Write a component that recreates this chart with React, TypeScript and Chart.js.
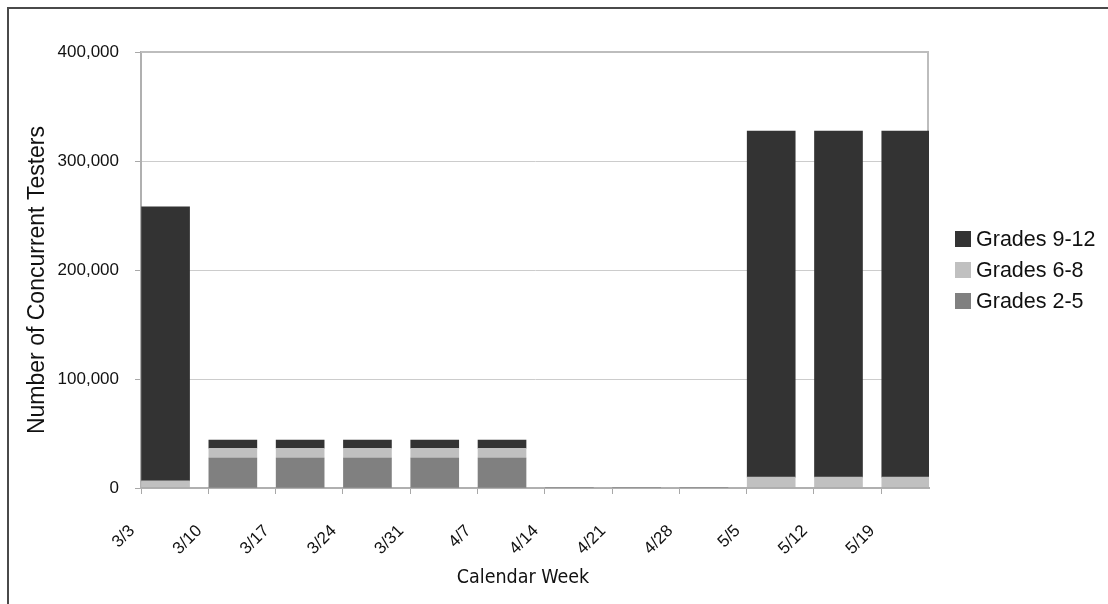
import React, { useEffect, useRef } from "react";
import { Chart, registerables } from "chart.js";

Chart.register(...registerables);

// Calendar weeks on the horizontal axis
const weeks = ["3/3", "3/10", "3/17", "3/24", "3/31", "4/7", "4/14", "4/21", "4/28", "5/5", "5/12", "5/19"];

// Concurrent testers per grade band, by week
const grades25 = [0, 27500, 27500, 27500, 27500, 27500, 0, 0, 0, 0, 0, 0];
const grades68 = [6500, 9000, 9000, 9000, 9000, 9000, 0, 0, 0, 10000, 10000, 10000];
const grades912 = [251500, 7500, 7500, 7500, 7500, 7500, 0, 0, 0, 317500, 317500, 317500];

// Value axis ticks
const yTicks = [0, 100000, 200000, 300000, 400000];

const FONT = "'Liberation Sans', Arial, sans-serif";
const NARROW = "'Liberation Sans Narrow', 'DejaVu Sans Condensed', 'Liberation Sans', sans-serif";

const COLORS = { g912: "#333333", g68: "#c0c0c0", g25: "#808080" };

// Bars sit at the left of each weekly slot
const BAR_SHIFT = 0.365;
const X_MAX = 11.71;

const legendItems = [
  { label: "Grades 9-12", color: COLORS.g912 },
  { label: "Grades 6-8", color: COLORS.g68 },
  { label: "Grades 2-5", color: COLORS.g25 },
];

const toPoints = (values: number[]) => values.map((v, i) => ({ x: i + BAR_SHIFT, y: v }));

const decorPlugin = {
  id: "decor",
  beforeDatasetsDraw(chart: any) {
    const { ctx, chartArea } = chart;
    ctx.save();
    ctx.strokeStyle = "#bdbdbd";
    ctx.lineWidth = 2;
    ctx.beginPath();
    ctx.moveTo(chartArea.left, chartArea.top);
    ctx.lineTo(chartArea.right - 1, chartArea.top);
    ctx.lineTo(chartArea.right - 1, chartArea.bottom);
    ctx.stroke();
    ctx.restore();
  },
  afterDraw(chart: any) {
    const { ctx } = chart;
    ctx.save();
    // outer frame
    ctx.strokeStyle = "#4a4a4a";
    ctx.lineWidth = 2;
    ctx.beginPath();
    ctx.moveTo(8, 604);
    ctx.lineTo(8, 8);
    ctx.lineTo(1108, 8);
    ctx.stroke();

    // axis titles
    ctx.fillStyle = "#111111";
    ctx.font = `23px ${FONT}`;
    ctx.textAlign = "center";
    ctx.textBaseline = "middle";
    ctx.save();
    ctx.translate(38, 280);
    ctx.rotate(-Math.PI / 2);
    ctx.fillText("Number of Concurrent Testers", 0, 0);
    ctx.restore();

    ctx.font = `19.5px ${NARROW}`;
    ctx.fillText("Calendar Week", 523, 578);

    // legend
    ctx.font = `21.5px ${FONT}`;
    ctx.textAlign = "left";
    legendItems.forEach((item, i) => {
      const top = 231 + i * 31;
      ctx.fillStyle = item.color;
      ctx.fillRect(955, top, 16, 16);
      ctx.fillStyle = "#111111";
      ctx.fillText(item.label, 976, top + 9);
    });
    ctx.restore();
  },
};

export default function App() {
  const canvasRef = useRef<HTMLCanvasElement | null>(null);

  useEffect(() => {
    if (!canvasRef.current) return;
    const chart = new Chart(canvasRef.current, {
      type: "bar",
      data: {
        datasets: [
          { label: "Grades 2-5", data: toPoints(grades25), backgroundColor: COLORS.g25 },
          { label: "Grades 6-8", data: toPoints(grades68), backgroundColor: COLORS.g68 },
          { label: "Grades 9-12", data: toPoints(grades912), backgroundColor: COLORS.g912 },
        ],
      },
      options: {
        animation: false,
        responsive: false,
        layout: { padding: { left: 0, top: 52, right: 179, bottom: 0 } },
        datasets: { bar: { barThickness: 48, borderWidth: 0 } },
        plugins: { legend: { display: false }, tooltip: { enabled: false } },
        scales: {
          x: {
            type: "linear",
            min: 0,
            max: X_MAX,
            offset: false,
            stacked: true,
            grid: { offset: false, drawOnChartArea: false, drawTicks: true, tickLength: 6, color: "#a8a8a8", lineWidth: 1 },
            border: { color: "#b0b0b0", width: 2 },
            ticks: {
              stepSize: 1,
              includeBounds: false,
              autoSkip: false,
              minRotation: 45,
              maxRotation: 45,
              padding: 27,
              labelOffset: -9,
              color: "#111111",
              font: { family: FONT, size: 17 },
              callback: (v: any) => weeks[Math.round(Number(v))] ?? "",
            },
            afterFit: (s: any) => {
              s.height = 116;
            },
          },
          y: {
            min: 0,
            max: 400000,
            stacked: true,
            afterBuildTicks: (s: any) => {
              s.ticks = yTicks.map((v) => ({ value: v }));
            },
            grid: { color: "#cccccc", lineWidth: 1, tickLength: 6, tickColor: "#a8a8a8" },
            border: { color: "#b0b0b0", width: 2 },
            ticks: {
              padding: 16,
              color: "#111111",
              font: { family: FONT, size: 17 },
              callback: (v: any) => Number(v).toLocaleString("en-US"),
            },
            afterFit: (s: any) => {
              s.width = 141;
            },
          },
        },
      },
      plugins: [decorPlugin],
    });
    return () => chart.destroy();
  }, []);

  return (
    <div style={{ position: "absolute", left: 0, top: 0, width: 1108, height: 604, background: "#ffffff" }}>
      <canvas ref={canvasRef} width={1108} height={604} />
    </div>
  );
}
